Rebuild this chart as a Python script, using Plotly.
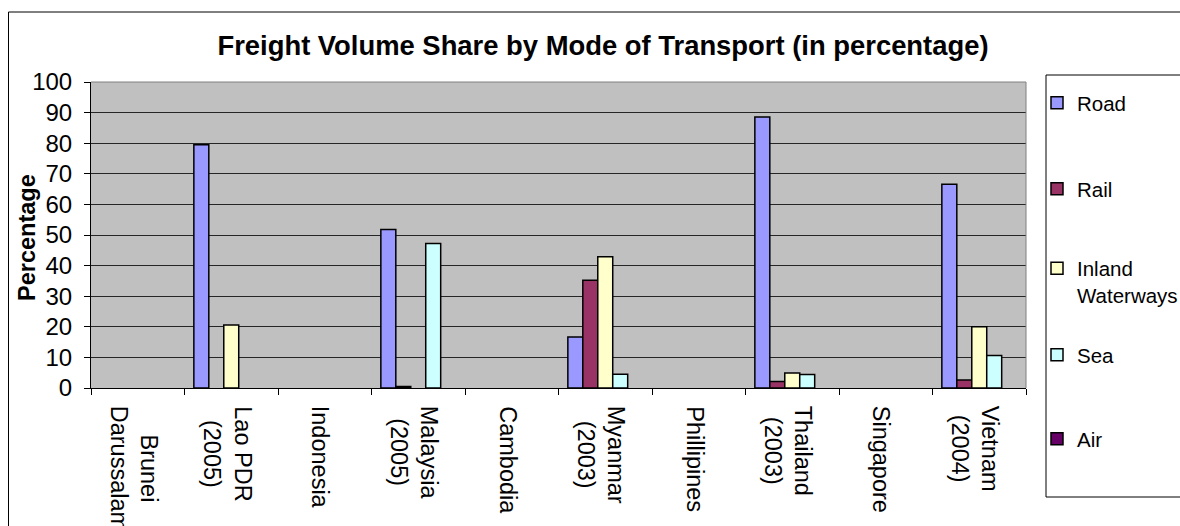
import plotly.graph_objects as go

categories = ["Brunei<br>Darussalam", "Lao PDR<br>(2005)", "Indonesia", "Malaysia<br>(2005)",
              "Cambodia", "Myanmar<br>(2003)", "Phillipines", "Thailand<br>(2003)",
              "Singapore", "Vietnam<br>(2004)"]
road = [None, 79.5, None, 51.8, None, 16.7, None, 88.6, None, 66.6]
rail = [None, None, None, 0.5, None, 35.2, None, 2.1, None, 2.6]
inland = [None, 20.6, None, None, None, 42.9, None, 4.9, None, 20.0]
sea = [None, None, None, 47.2, None, 4.5, None, 4.4, None, 10.6]
air = [None, None, None, None, None, None, None, None, None, None]
series_names = ["Road", "Rail", "Inland<br>Waterways", "Sea", "Air"]
series_values = [road, rail, inland, sea, air]
y_ticks = [0, 10, 20, 30, 40, 50, 60, 70, 80, 90, 100]

colors = ["#9999FF", "#993366", "#FFFFCC", "#CCFFFF", "#660066"]
FONT = "Arial, 'Liberation Sans', sans-serif"

W, H = 1180, 526
L, R, T, B = 91, 1026, 82, 388  # plot area edges in window pixels


def px_x(p):
    return (p - L) / (R - L)


def px_y(p):
    return (B - p) / (B - T)


fig = go.Figure()
legend_ids = ["legend", "legend2", "legend3", "legend4", "legend5"]
for name, vals, col, lid in zip(series_names, series_values, colors, legend_ids):
    fig.add_trace(go.Bar(
        x=categories, y=vals, name=name,
        marker=dict(color=col, line=dict(color="black", width=1.5)),
        legend=lid, showlegend=True,
    ))

legend_centres = [103, 189, 282, 355, 439]
leg_layout = {}
for lid, cy in zip(legend_ids, legend_centres):
    leg_layout[lid] = dict(
        x=px_x(1037), xanchor="left", y=px_y(cy), yanchor="middle",
        bgcolor="rgba(0,0,0,0)", borderwidth=0, valign="top",
        font=dict(family=FONT, size=20.5, color="black"),
    )

annotations = [
    dict(text="<b>Percentage</b>", x=px_x(27), xref="paper", xanchor="center",
         y=px_y(238), yref="paper", yanchor="middle", textangle=-90,
         showarrow=False, font=dict(family=FONT, size=23.5, color="black")),
]
for cat in categories:
    annotations.append(dict(
        text=cat, x=cat, xref="x", xanchor="center", xshift=-4,
        y=px_y(404), yref="paper", yanchor="top", textangle=90, align="center",
        showarrow=False, font=dict(family=FONT, size=23.5, color="black")))

fig.update_layout(
    width=W, height=H,
    margin=dict(l=L, r=W - R, t=T, b=H - B, autoexpand=False),
    paper_bgcolor="white", plot_bgcolor="#C0C0C0",
    barmode="group", bargap=0.2, bargroupgap=0,
    font=dict(family=FONT, color="black"),
    title=dict(text="<b>Freight Volume Share by Mode of Transport (in percentage)</b>",
               x=px_x(603), xref="paper", xanchor="center",
               y=1 - 45 / H, yref="container", yanchor="middle",
               font=dict(family=FONT, size=27.4, color="black")),
    xaxis=dict(type="category", tickson="boundaries", ticks="outside", ticklen=6,
               tickcolor="black", showline=True, linecolor="black", linewidth=1,
               showgrid=False, showticklabels=False, automargin=False),
    yaxis=dict(range=[0, 100], tickvals=y_ticks, ticks="outside", ticklen=6,
               tickcolor="black", showline=True, linecolor="black", linewidth=1,
               showgrid=True, gridcolor="#262626", gridwidth=1, zeroline=False,
               automargin=False, ticklabelstandoff=7,
               tickfont=dict(family=FONT, size=24, color="black")),
    annotations=annotations,
    shapes=[
        dict(type="line", xref="paper", yref="paper", x0=0, x1=1, y0=1, y1=1,
             line=dict(color="#808080", width=1), layer="above"),
        dict(type="line", xref="paper", yref="paper", x0=1, x1=1, y0=0, y1=1,
             line=dict(color="#808080", width=1), layer="above"),
        dict(type="rect", xref="paper", yref="paper",
             x0=px_x(1046), x1=px_x(1260), y0=px_y(497), y1=px_y(75),
             line=dict(color="black", width=1), fillcolor="rgba(0,0,0,0)"),
        dict(type="rect", xref="paper", yref="paper",
             x0=px_x(8.5), x1=px_x(1300), y0=px_y(600), y1=px_y(12),
             line=dict(color="black", width=1), fillcolor="rgba(0,0,0,0)"),
    ],
    **leg_layout,
)

fig.write_html("out.html", config={"displayModeBar": False},
               post_script="document.body.style.margin='0';document.body.style.overflow='hidden';")
